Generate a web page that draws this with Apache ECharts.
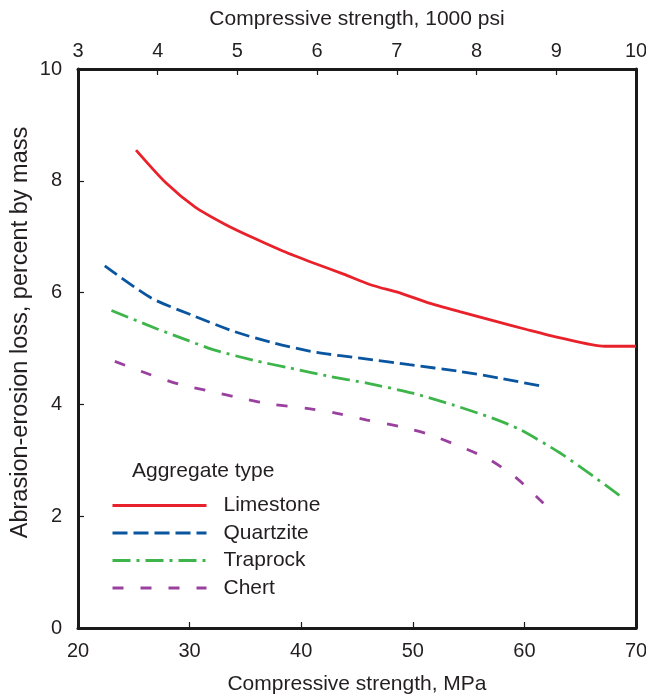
<!DOCTYPE html>
<html>
<head>
<meta charset="utf-8">
<script src="https://cdn.jsdelivr.net/npm/echarts@6/dist/echarts.min.js"></script>
<style>
html,body{margin:0;padding:0;background:#fff;}
#chart{width:646px;height:695px;}
</style>
</head>
<body>
<div id="chart"></div>
<script>
const seriesNames = ['Limestone', 'Quartzite', 'Traprock', 'Chert'];
const limestone = [[25.2,8.55],[27.9,7.96],[30.5,7.53],[33.2,7.22],[35.7,6.98],[38.4,6.74],[41.1,6.53],[43.8,6.33],[46.2,6.14],[48.9,5.99],[51.2,5.83],[54.2,5.66],[57.2,5.50],[60.2,5.34],[63.2,5.19],[67.2,5.04],[70,5.04]];
const quartzite = [[22.4,6.48],[26.6,5.90],[30.3,5.59],[33.9,5.31],[37.5,5.10],[41.4,4.93],[45.6,4.82],[49.7,4.71],[54.2,4.59],[57.8,4.47],[61.7,4.32]];
const traprock = [[23.0,5.68],[27.1,5.35],[29.9,5.14],[32.1,4.98],[35.7,4.79],[39.0,4.65],[42.6,4.50],[45.9,4.38],[50.0,4.20],[53.6,3.99],[57.2,3.75],[59.6,3.55],[63.2,3.13],[66.2,2.71],[68.6,2.36]];
const chert = [[23.3,4.77],[26.5,4.53],[29.1,4.36],[32.0,4.23],[34.8,4.10],[37.5,4.00],[40.5,3.93],[43.2,3.84],[45.9,3.72],[48.9,3.60],[51.5,3.46],[54.2,3.25],[56.9,3.01],[59.3,2.68],[61.7,2.23]];
const xTicksMPa = [20, 30, 40, 50, 60, 70];
const xTicksPsi = [3, 4, 5, 6, 7, 8, 9, 10];
const yTicks = [0, 2, 4, 6, 8, 10];

const colors = ['#e8212b', '#0a55a0', '#3db54a', '#9a409f'];
const dashes = ['solid', [15, 6], [18, 6, 3, 6], [11, 17]];
const dataSets = [limestone, quartzite, traprock, chert];
const FONT = '"Liberation Sans", Arial, sans-serif';
const TXT = '#231f20';

const chart = echarts.init(document.getElementById('chart'));
const axisLine = { show: true, onZero: false, lineStyle: { color: '#1a1a1a', width: 3 } };
const tick = { show: true, inside: true, length: 6, lineStyle: { color: '#1a1a1a', width: 1.2 } };
const option = {
  animation: false,
  backgroundColor: '#fff',
  title: {
    text: 'Aggregate type', left: 132, top: 461, padding: 0,
    textStyle: { fontFamily: FONT, fontSize: 21, fontWeight: 'normal', color: TXT }
  },
  legend: {
    orient: 'vertical', left: 111, top: 495, padding: 0,
    itemWidth: 94, itemHeight: 14, itemGap: 6.5,
    data: seriesNames,
    itemStyle: { color: 'transparent', borderColor: 'transparent', borderWidth: 0 },
    lineStyle: { width: 3 },
    textStyle: { fontFamily: FONT, fontSize: 21, color: TXT, padding: [0, 0, 0, 12] }
  },
  grid: { left: 78, right: 10, top: 69, bottom: 67, containLabel: false, outerBoundsMode: 'none' },
  xAxis: [
    {
      type: 'value', position: 'bottom', min: 20, max: 70, interval: 10,
      name: 'Compressive strength, MPa', nameLocation: 'middle', nameGap: 46, nameMoveOverlap: false,
      nameTextStyle: { fontFamily: FONT, fontSize: 21, color: TXT },
      axisLine: axisLine, axisTick: tick,
      axisLabel: { fontFamily: FONT, fontSize: 20, color: TXT, margin: 13, customValues: xTicksMPa },
      splitLine: { show: false }
    },
    {
      type: 'value', position: 'top', min: 3, max: 10, interval: 1,
      name: 'Compressive strength, 1000 psi', nameLocation: 'middle', nameGap: 39, nameMoveOverlap: false,
      nameTextStyle: { fontFamily: FONT, fontSize: 21, color: TXT },
      axisLine: axisLine, axisTick: tick,
      axisLabel: { fontFamily: FONT, fontSize: 20, color: TXT, margin: 8, customValues: xTicksPsi },
      splitLine: { show: false }
    }
  ],
  yAxis: [
    {
      type: 'value', position: 'left', min: 0, max: 10, interval: 2,
      name: 'Abrasion-erosion loss, percent by mass', nameLocation: 'middle', nameGap: 45, nameMoveOverlap: false,
      nameTextStyle: { fontFamily: FONT, fontSize: 23.5, color: TXT, padding: [0, 0, 0, 32] },
      axisLine: axisLine, axisTick: tick,
      axisLabel: { fontFamily: FONT, fontSize: 20, color: TXT, margin: 16, customValues: yTicks },
      splitLine: { show: false }
    },
    {
      type: 'value', position: 'right', min: 0, max: 10, interval: 2,
      axisLine: axisLine, axisTick: { show: false }, axisLabel: { show: false },
      splitLine: { show: false }
    }
  ],
  series: seriesNames.map((n, i) => ({
    name: n, type: 'line', xAxisIndex: 0, yAxisIndex: 0,
    data: dataSets[i], smooth: 0.25, showSymbol: false, symbol: 'none',
    color: colors[i],
    lineStyle: { color: colors[i], width: 2.8, type: dashes[i] }
  }))
};
chart.setOption(option);
</script>
</body>
</html>
